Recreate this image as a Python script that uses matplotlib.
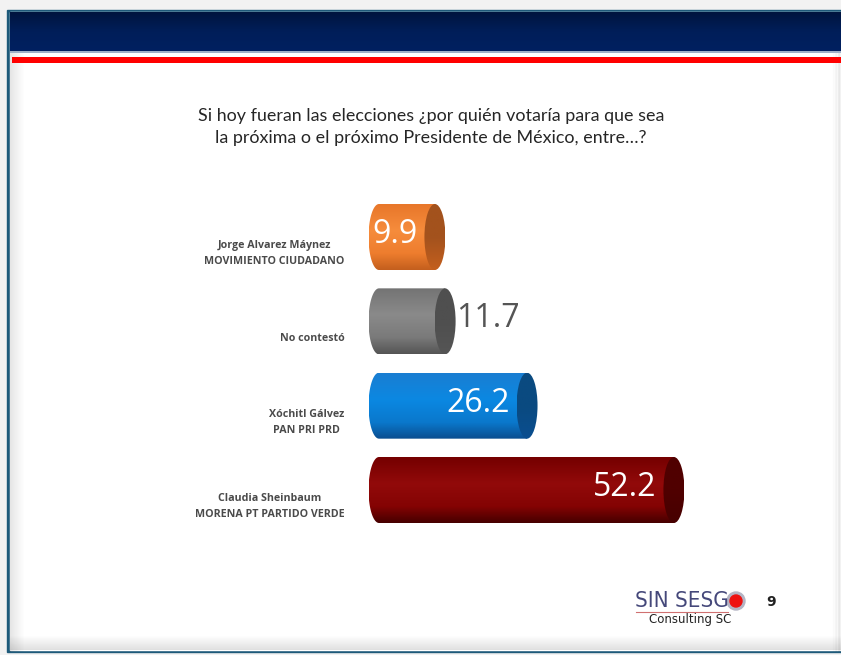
import numpy as np
import matplotlib
matplotlib.use("Agg")
import matplotlib.pyplot as plt
from matplotlib.patches import Rectangle, Ellipse, Polygon
from matplotlib.colors import LinearSegmentedColormap

# data, top to bottom as in the slide
names = ["Jorge Alvarez Máynez\nMOVIMIENTO CIUDADANO",
         "No contestó",
         "Xóchitl Gálvez\nPAN PRI PRD",
         "Claudia Sheinbaum\nMORENA PT PARTIDO VERDE"]
values = [9.9, 11.7, 26.2, 52.2]
# (top, light band, body, bottom)
body_colors = [("#e8772a", "#f68c3c", "#ee7d2e", "#c45f1e"),
               ("#747474", "#8a8a8a", "#7a7a7a", "#555555"),
               ("#1a7ed2", "#0b88e2", "#0a78cc", "#0a4e90"),
               ("#750000", "#920a0a", "#840303", "#470000")]
cap_colors = ["#a3521d", "#4f4f4f", "#0a4a80", "#500000"]
label_inside = [True, False, True, True]

title = "Si hoy fueran las elecciones ¿por quién votaría para que sea\nla próxima o el próximo Presidente de México, entre…?"

W, H = 841, 655
fig = plt.figure(figsize=(W / 100, H / 100), dpi=100)
fig.patch.set_facecolor("#f2f2f2")

# slide frame drawn in pixel coords
bg = fig.add_axes([0, 0, 1, 1])
bg.set_xlim(0, W)
bg.set_ylim(H, 0)
bg.axis("off")
bg.add_patch(Rectangle((7, 10), W, 642, color="#1e5a7a", zorder=1))
bg.add_patch(Rectangle((10, 12), W, 638, color="white", zorder=2))
# inner shadows
for i in range(14):
    a = 0.10 * (1 - i / 14)
    bg.add_patch(Rectangle((10 + i, 52), 1, 600, color="black", alpha=a, lw=0, zorder=3))
    bg.add_patch(Rectangle((10, 649 - i), W, 1, color="black", alpha=a * 1.2, lw=0, zorder=3))
    bg.add_patch(Rectangle((W - 1 - i * 0.6, 52), 1, 600, color="black", alpha=a * 0.5, lw=0, zorder=3))
# header band with gradient
hdr = np.linspace(0, 1, 40).reshape(-1, 1)
hcm = LinearSegmentedColormap.from_list("h", ["#00153f", "#001e59", "#002060"])
bg.imshow(hdr, cmap=hcm, extent=(10, W, 51, 12), aspect="auto", zorder=4)
bg.add_patch(Rectangle((10, 51), W, 1.5, color="#9fb0c8", lw=0, zorder=4))
bg.add_patch(Rectangle((12, 57), W, 6, color="#ff0000", lw=0, zorder=4))
bg.set_xlim(0, W)
bg.set_ylim(H, 0)

fig.text(431 / W, 1 - 127 / H, title, ha="center", va="center", fontsize=12.85,
         family="Lato", color="#262626", linespacing=1.5)

# logo and page number
fig.text(682 / W, 1 - 601 / H, "SIN SESG", ha="center", va="center", fontsize=16,
         family="DejaVu Sans", color="#45487a", fontweight="light",
         fontstretch="condensed")
bg.add_patch(Ellipse((736, 601), 18, 18, color="#b4b4c4", zorder=5))
bg.add_patch(Ellipse((736, 601), 12, 12, color="#ee1111", zorder=6))
bg.plot([636, 728], [612, 612], color="#d07070", lw=0.8, zorder=5)
fig.text(690 / W, 1 - 620 / H, "Consulting SC", ha="center", va="center", fontsize=8.5,
         family="DejaVu Sans", color="#222222")
fig.text(771 / W, 1 - 602 / H, "9", ha="center", va="center", fontsize=10,
         fontweight="bold", color="#222222")

# chart axes: zero at x=379 px, 5.65 px per unit; bar centers 237..490 px
x0px, ppu = 379, 5.65
pad_px = 20
ax_w = 420
ytop, ybot = 190, 545
step = (490 - 237) / 3
ax = fig.add_axes([(x0px - pad_px) / W, 1 - ybot / H, (ax_w + pad_px) / W, (ybot - ytop) / H])
ax.set_facecolor("none")
xmin = -pad_px / ppu
xmax = ax_w / ppu
ypos = np.arange(len(values))[::-1]
ymin = -(ybot - 490) / step
ymax = (490 - ytop) / step
bh = 66 / step
bars = ax.barh(ypos, values, height=bh, color="none", zorder=1)

cap_w = 21 / ppu
grad = np.linspace(0, 1, 100).reshape(-1, 1)
for bar, bc, cc, val, inside in zip(bars, body_colors, cap_colors, values, label_inside):
    x = bar.get_width()
    yc = bar.get_y() + bar.get_height() / 2
    b = bar.get_height() / 2
    a = cap_w / 2
    t = np.linspace(np.pi / 2, 3 * np.pi / 2, 60)
    arc = np.column_stack([a * np.cos(t), yc + b * np.sin(t)])
    pts = np.vstack([[x, yc + b], arc, [x, yc - b]])
    poly = Polygon(pts, closed=True, facecolor="none", edgecolor="none")
    ax.add_patch(poly)
    cm = LinearSegmentedColormap.from_list(
        "b", [(0, bc[0]), (0.4, bc[1]), (0.75, bc[2]), (1, bc[3])])
    im = ax.imshow(grad, cmap=cm, extent=(-a, x, yc - b, yc + b), aspect="auto",
                   origin="upper", zorder=2, interpolation="bilinear")
    im.set_clip_path(poly)
    ell = Ellipse((x, yc), cap_w, 2 * b, facecolor="none", edgecolor="none")
    ax.add_patch(ell)
    cm2 = LinearSegmentedColormap.from_list("c", [cc, cc, bc[3]])
    im2 = ax.imshow(grad, cmap=cm2, extent=(x - a, x + a, yc - b, yc + b), aspect="auto",
                    origin="upper", zorder=3, interpolation="bilinear")
    im2.set_clip_path(ell)
    if inside:
        ax.text(x - 3.1, yc + 0.03, f"{val:.1f}", ha="right", va="center",
                fontsize=23, color="white", family="Open Sans", zorder=4)
    else:
        ax.text(x + 1.9, yc + 0.03, f"{val:.1f}", ha="left", va="center",
                fontsize=23, color="#555555", family="Open Sans", zorder=4)

for yp, name in zip(ypos, names):
    ax.annotate(name, xy=(0, yp), xytext=(-25, -12),
                textcoords="offset points", ha="right", va="center",
                multialignment="center", fontsize=7.7, fontweight="bold",
                family="Open Sans", color="#4a4a4a", linespacing=1.55)

ax.set_xlim(xmin, xmax)
ax.set_ylim(ymin, ymax)
ax.axis("off")

fig.savefig("out.png", dpi=100)
